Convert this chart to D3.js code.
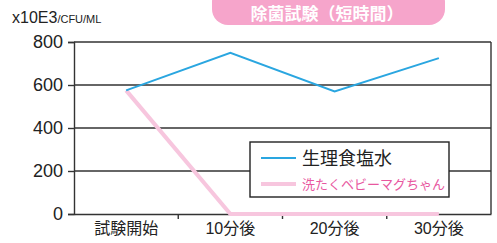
<!DOCTYPE html>
<html>
<head>
<meta charset="utf-8">
<script src="https://cdn.jsdelivr.net/npm/d3@7"></script>
<style>
  body { margin: 0; background: #fff; }
  text { font-family: "Liberation Sans", "Noto Sans CJK JP", sans-serif; }
</style>
</head>
<body>
<div id="chart"></div>
<script>
var categories = ["試験開始", "10分後", "20分後", "30分後"];
var salineValues = [575, 750, 570, 725];
var babyValues = [575, 0, 0, 0];
var yTicks = [0, 200, 400, 600, 800];
var seriesNames = ["生理食塩水", "洗たくベビーマグちゃん"];
var chartTitle = "除菌試験（短時間）";

var width = 497, height = 243;
var margin = { top: 42, right: 6, bottom: 29, left: 74 };
var innerW = width - margin.left - margin.right;
var innerH = height - margin.top - margin.bottom;

var svg = d3.select("#chart").append("svg")
    .attr("width", width)
    .attr("height", height);

// title badge
svg.append("rect")
    .attr("x", 212).attr("y", -14)
    .attr("width", 233).attr("height", 39)
    .attr("rx", 16)
    .attr("fill", "#f6a5cb");
svg.append("text")
    .attr("x", 327).attr("y", 20)
    .attr("text-anchor", "middle")
    .attr("fill", "#fff")
    .style("font-size", "17px")
    .style("font-weight", "bold")
    .style("font-family", "'Noto Sans CJK JP', sans-serif")
    .text(chartTitle);

// unit label
var unit = svg.append("text")
    .attr("x", 12).attr("y", 23)
    .attr("fill", "#222");
unit.append("tspan").style("font-size", "16px").text("x10E3");
unit.append("tspan").style("font-size", "11px").text("/CFU/ML");

var g = svg.append("g")
    .attr("transform", "translate(" + margin.left + "," + margin.top + ")");

var x = d3.scaleBand().domain(categories).range([0, innerW]);
var y = d3.scaleLinear().domain([0, 800]).range([innerH, 0]);

// grid lines
g.selectAll(".grid")
    .data(yTicks.filter(d => d > 0))
    .enter().append("line")
    .attr("x1", 0).attr("x2", innerW)
    .attr("y1", d => y(d)).attr("y2", d => y(d))
    .attr("stroke", "#333").attr("stroke-width", 1.4);

// right border
g.append("line")
    .attr("x1", innerW).attr("x2", innerW)
    .attr("y1", 0).attr("y2", innerH)
    .attr("stroke", "#333").attr("stroke-width", 1.4);

// y axis
var yAxis = g.append("g")
    .call(d3.axisLeft(y).tickValues(yTicks).tickSize(6).tickPadding(5).tickFormat(d3.format("d")));
yAxis.select(".domain").attr("stroke", "#333").attr("stroke-width", 1.4);
yAxis.selectAll(".tick line").attr("stroke", "#333").attr("stroke-width", 1.4);
yAxis.selectAll("text").style("font-size", "18px").attr("fill", "#222");

// x axis
var xAxis = g.append("g")
    .attr("transform", "translate(0," + innerH + ")")
    .call(d3.axisBottom(x).tickSize(0).tickPadding(9));
xAxis.select(".domain").attr("stroke", "#333").attr("stroke-width", 1.4);
xAxis.selectAll("text").style("font-size", "16px").attr("fill", "#222")
    .style("font-family", "'Liberation Sans', 'Noto Sans CJK JP', sans-serif");
xAxis.selectAll(".sep")
    .data(categories.slice(1))
    .enter().append("line")
    .attr("x1", d => x(d)).attr("x2", d => x(d))
    .attr("y1", 0).attr("y2", 5)
    .attr("stroke", "#333").attr("stroke-width", 1.4);

var line = d3.line()
    .x((d, i) => x(categories[i]) + x.bandwidth() / 2)
    .y(d => y(d));

g.append("path")
    .datum(babyValues)
    .attr("d", line)
    .attr("fill", "none")
    .attr("stroke", "#f7c6de")
    .attr("stroke-width", 4);

g.append("path")
    .datum(salineValues)
    .attr("d", line)
    .attr("fill", "none")
    .attr("stroke", "#2aa6e0")
    .attr("stroke-width", 2);

// legend
var legend = svg.append("g").attr("transform", "translate(250,142)");
legend.append("rect")
    .attr("width", 199).attr("height", 55)
    .attr("fill", "#fff")
    .attr("stroke", "#222").attr("stroke-width", 1.4);
legend.append("line")
    .attr("x1", 11).attr("x2", 46).attr("y1", 16).attr("y2", 16)
    .attr("stroke", "#2aa6e0").attr("stroke-width", 2);
legend.append("text")
    .attr("x", 52).attr("y", 23)
    .style("font-size", "18px")
    .style("font-family", "'Noto Sans CJK JP', sans-serif")
    .attr("fill", "#222")
    .text(seriesNames[0]);
legend.append("line")
    .attr("x1", 11).attr("x2", 46).attr("y1", 42).attr("y2", 42)
    .attr("stroke", "#f7c6de").attr("stroke-width", 4);
legend.append("text")
    .attr("x", 52).attr("y", 47)
    .style("font-size", "13px")
    .style("font-family", "'Noto Sans CJK JP', sans-serif")
    .attr("fill", "#e8589f")
    .text(seriesNames[1]);
</script>
</body>
</html>
